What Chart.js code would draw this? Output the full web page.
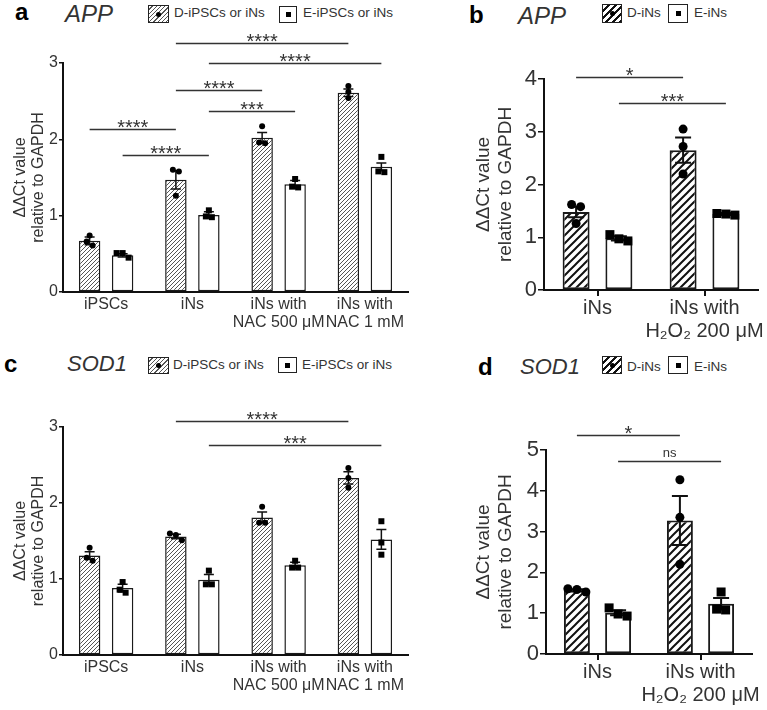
<!DOCTYPE html>
<html>
<head>
<meta charset="utf-8">
<script src="https://cdn.jsdelivr.net/npm/chart.js@4.4.0/dist/chart.umd.min.js"></script>
<style>
  body { margin: 0; width: 767px; height: 710px; background: #fff; position: relative; overflow: hidden;
         font-family: "Liberation Sans", Arial, sans-serif; color: #333; }
  canvas { position: absolute; }
  .t { position: absolute; white-space: nowrap; line-height: 1; }
  .letter { font-weight: bold; font-size: 24px; color: #000; }
  .gene { font-style: italic; font-size: 24px; color: #333; }
  .gene.s { font-size: 22px; }
  .lg { font-size: 13.5px; color: #333; }
  .sw { position: absolute; box-sizing: border-box; border: 1.5px solid #222; background: #fff; }
  .sw.fine { background: repeating-linear-gradient(135deg, #fff 0 2px, #555 2px 3px); }
  .sw.bold { background: repeating-linear-gradient(135deg, #fff 0 3px, #111 3px 5px); }
  .sw i { position: absolute; left: 50%; top: 50%; width: 5px; height: 5px; margin: -2.5px 0 0 -2.5px; background: #000; }
  .sw.fine i, .sw.bold i { border-radius: 50%; }
</style>
</head>
<body>

<!-- panel headers -->
<div class="t letter" style="left:15px;top:0px">a</div>
<div class="t gene" style="left:65px;top:2px">APP</div>
<div class="sw fine" style="left:148px;top:5px;width:21px;height:18px"><i></i></div>
<div class="t lg" style="left:174px;top:6px">D-iPSCs or iNs</div>
<div class="sw" style="left:279px;top:6px;width:18px;height:17px"><i></i></div>
<div class="t lg" style="left:303px;top:6px">E-iPSCs or iNs</div>

<div class="t letter" style="left:469px;top:3px">b</div>
<div class="t gene" style="left:518px;top:4px">APP</div>
<div class="sw bold" style="left:602px;top:4px;width:20px;height:19px"><i></i></div>
<div class="t lg" style="left:627px;top:6px">D-iNs</div>
<div class="sw" style="left:668px;top:4px;width:20px;height:19px"><i></i></div>
<div class="t lg" style="left:694px;top:6px">E-iNs</div>

<div class="t letter" style="left:4px;top:352px">c</div>
<div class="t gene s" style="left:67px;top:353px">SOD1</div>
<div class="sw fine" style="left:148px;top:357px;width:21px;height:17px"><i></i></div>
<div class="t lg" style="left:173px;top:358px">D-iPSCs or iNs</div>
<div class="sw" style="left:278px;top:357px;width:19px;height:16px"><i></i></div>
<div class="t lg" style="left:302px;top:358px">E-iPSCs or iNs</div>

<div class="t letter" style="left:478px;top:355px">d</div>
<div class="t gene s" style="left:520px;top:356px">SOD1</div>
<div class="sw bold" style="left:602px;top:356px;width:20px;height:18px"><i></i></div>
<div class="t lg" style="left:627px;top:360px">D-iNs</div>
<div class="sw" style="left:668px;top:356px;width:20px;height:18px"><i></i></div>
<div class="t lg" style="left:694px;top:360px">E-iNs</div>

<canvas id="pa" width="420" height="345" style="left:0;top:0"></canvas>
<canvas id="pb" width="327" height="345" style="left:440px;top:0"></canvas>
<canvas id="pc" width="420" height="345" style="left:0;top:360px"></canvas>
<canvas id="pd" width="327" height="350" style="left:440px;top:360px"></canvas>

<script>
// ---- data ----
const nacGroups = ['iPSCs', 'iNs', ['iNs with', 'NAC 500 μM'], ['iNs with', 'NAC 1 mM']];
const h2o2Groups = ['iNs', ['iNs with', 'H₂O₂ 200 μM']];
const yTitle = ['ΔΔCt value', 'relative to GAPDH'];

// a: APP, iPSCs / iNs / NAC
const appNacD = [0.67, 1.47, 2.02, 2.61];
const appNacDSem = [0.05, 0.12, 0.07, 0.05];
const appNacDPts = [[0.74, 0.66, 0.61], [1.60, 1.58, 1.26], [2.17, 1.96, 1.95], [2.70, 2.62, 2.54]];
const appNacE = [0.48, 1.01, 1.41, 1.64];
const appNacESem = [0.02, 0.04, 0.05, 0.05];
const appNacEPts = [[0.51, 0.51, 0.45], [1.07, 0.98, 0.99], [1.48, 1.37, 1.38], [1.77, 1.58, 1.57]];
// [dataset, group] -> [dataset, group], bracket height, label
const appNacSig = [
  [[0, 1], [0, 3], 3.26, '****'],
  [[1, 1], [1, 3], 3.00, '****'],
  [[0, 1], [0, 2], 2.65, '****'],
  [[1, 1], [1, 2], 2.37, '***'],
  [[0, 0], [0, 1], 2.13, '****'],
  [[1, 0], [1, 1], 1.80, '****']
];

// b: APP, H2O2
const appH2o2D = [1.48, 2.65];
const appH2o2DSem = [0.10, 0.24];
const appH2o2DPts = [[1.62, 1.58, 1.26], [3.05, 2.72, 2.20]];
const appH2o2E = [0.98, 1.44];
const appH2o2ESem = [0.04, 0.02];
const appH2o2EPts = [[0.93, 1.05, 0.97], [1.42, 1.45, 1.44]];
const appH2o2Sig = [
  [[0, 0], [0, 1], 4.04, '*'],
  [[1, 0], [1, 1], 3.55, '***']
];

// c: SOD1, iPSCs / iNs / NAC
const sodNacD = [1.31, 1.56, 1.81, 2.33];
const sodNacDSem = [0.05, 0.03, 0.07, 0.08];
const sodNacDPts = [[1.41, 1.28, 1.24], [1.60, 1.58, 1.51], [1.95, 1.74, 1.74], [2.46, 2.33, 2.20]];
const sodNacE = [0.88, 0.99, 1.18, 1.52];
const sodNacESem = [0.05, 0.07, 0.04, 0.13];
const sodNacEPts = [[0.96, 0.86, 0.82], [1.11, 0.93, 0.93], [1.24, 1.15, 1.15], [1.76, 1.48, 1.32]];
const sodNacSig = [
  [[0, 1], [0, 3], 3.08, '****'],
  [[1, 1], [1, 3], 2.76, '***']
];

// d: SOD1, H2O2
const sodH2o2D = [1.56, 3.27];
const sodH2o2DSem = [0.03, 0.60];
const sodH2o2DPts = [[1.52, 1.58, 1.60], [4.27, 3.35, 2.20]];
const sodH2o2E = [1.01, 1.23];
const sodH2o2ESem = [0.06, 0.14];
const sodH2o2EPts = [[0.93, 1.13, 0.98], [1.52, 1.08, 1.10]];
const sodH2o2Sig = [
  [[0, 0], [0, 1], 5.36, '*'],
  [[1, 0], [1, 1], 4.74, 'ns']
];

// ---- drawing ----
const FONT = '"Liberation Sans", Arial, sans-serif';

function hatch(size, lw, color) {
  const c = document.createElement('canvas');
  c.width = c.height = size;
  const g = c.getContext('2d');
  g.fillStyle = '#fff';
  g.fillRect(0, 0, size, size);
  g.strokeStyle = color;
  g.lineWidth = lw;
  g.beginPath();
  g.moveTo(-1, size + 1); g.lineTo(size + 1, -1);
  g.moveTo(-size / 2, size / 2); g.lineTo(size / 2, -size / 2);
  g.moveTo(size / 2, size * 1.5); g.lineTo(size * 1.5, size / 2);
  g.stroke();
  return g.createPattern(c, 'repeat');
}

// points with nearly equal values sit side by side, like the prism scatter
function spread(vals, yScale, gap) {
  const px = vals.map(v => yScale.getPixelForValue(v));
  const order = px.map((p, i) => i).sort((a, b) => px[a] - px[b]);
  const offs = new Array(vals.length).fill(0);
  let grp = [order[0]];
  const flush = () => grp.forEach((idx, k) => { offs[idx] = (k - (grp.length - 1) / 2) * gap; });
  for (let k = 1; k < order.length; k++) {
    if (px[order[k]] - px[grp[grp.length - 1]] < gap * 0.9) grp.push(order[k]);
    else { flush(); grp = [order[k]]; }
  }
  flush();
  return px.map((p, i) => ({ dx: offs[i], y: p }));
}

function extras(p) {
  return {
    id: 'extras',
    afterDatasetsDraw(chart) {
      const ctx = chart.ctx;
      const y = chart.scales.y;
      const means = [p.d, p.e], sems = [p.dSem, p.eSem], pts = [p.dPts, p.ePts];
      ctx.save();
      // error bars (mean +- sem)
      ctx.strokeStyle = '#111';
      ctx.lineWidth = p.errW;
      for (let ds = 0; ds < 2; ds++) {
        chart.getDatasetMeta(ds).data.forEach((bar, i) => {
          const top = y.getPixelForValue(means[ds][i] + sems[ds][i]);
          const bot = y.getPixelForValue(means[ds][i] - sems[ds][i]);
          ctx.beginPath();
          ctx.moveTo(bar.x, top); ctx.lineTo(bar.x, bot);
          ctx.moveTo(bar.x - p.cap / 2, top); ctx.lineTo(bar.x + p.cap / 2, top);
          ctx.moveTo(bar.x - p.cap / 2, bot); ctx.lineTo(bar.x + p.cap / 2, bot);
          ctx.stroke();
        });
      }
      // individual replicates: circles for D, squares for E
      ctx.fillStyle = '#000';
      for (let ds = 0; ds < 2; ds++) {
        chart.getDatasetMeta(ds).data.forEach((bar, i) => {
          spread(pts[ds][i], y, p.dot * 2).forEach(q => {
            const x = bar.x + q.dx;
            ctx.beginPath();
            if (ds === 0) ctx.arc(x, q.y, p.dot, 0, Math.PI * 2);
            else ctx.rect(x - p.dot, q.y - p.dot, p.dot * 2, p.dot * 2);
            ctx.fill();
          });
        });
      }
      // significance brackets
      ctx.strokeStyle = '#333';
      ctx.fillStyle = '#333';
      ctx.lineWidth = 1.5;
      ctx.textAlign = 'center';
      ctx.textBaseline = 'alphabetic';
      p.sig.forEach(([a, b, h, label]) => {
        const x1 = chart.getDatasetMeta(a[0]).data[a[1]].x;
        const x2 = chart.getDatasetMeta(b[0]).data[b[1]].x;
        const yy = Math.round(y.getPixelForValue(h)) + 0.5;
        ctx.beginPath();
        ctx.moveTo(x1, yy); ctx.lineTo(x2, yy);
        ctx.stroke();
        if (label === 'ns') {
          ctx.font = '13px ' + FONT;
          ctx.fillText(label, (x1 + x2) / 2, yy - 5);
        } else {
          ctx.font = '20px ' + FONT;
          ctx.fillText(label, (x1 + x2) / 2, yy + 4);
        }
      });
      ctx.restore();
    }
  };
}

function panel(id, p) {
  const big = p.big;
  return new Chart(document.getElementById(id), {
    type: 'bar',
    data: {
      labels: p.labels,
      datasets: [
        { label: p.dName, data: p.d, backgroundColor: p.pattern, borderColor: '#1a1a1a',
          borderWidth: p.barW, borderSkipped: false },
        { label: p.eName, data: p.e, backgroundColor: '#fff', borderColor: '#1a1a1a',
          borderWidth: p.barW, borderSkipped: false }
      ]
    },
    options: {
      responsive: false,
      animation: false,
      events: [],
      datasets: { bar: { categoryPercentage: p.catPct, barPercentage: p.barPct } },
      layout: { padding: { left: 0, right: p.padR, top: p.padT, bottom: 0 } },
      plugins: { legend: { display: false }, tooltip: { enabled: false } },
      scales: {
        x: {
          offset: true,
          afterFit: s => { s.height = p.xH; },
          grid: { display: true, drawOnChartArea: false, drawTicks: big, tickLength: 6,
                  offset: false, color: '#111', lineWidth: 2 },
          border: { display: true, color: '#111', width: 2 },
          ticks: { color: '#333', padding: big ? 1 : 4, maxRotation: 0, autoSkip: false,
                   font: { family: FONT, size: big ? 20 : 16, lineHeight: big ? 1.15 : 1.1 } }
        },
        y: {
          min: 0, max: p.yMax,
          afterFit: s => { s.width = p.yW; },
          grid: { display: true, drawOnChartArea: false, drawTicks: true, tickLength: big ? 6 : 4,
                  color: '#111', lineWidth: 1.5 },
          border: { display: true, color: '#111', width: 2 },
          ticks: { stepSize: 1, color: '#333', padding: 1,
                   font: { family: FONT, size: big ? 22 : 16 } },
          title: { display: true, text: yTitle, color: '#333',
                   padding: { top: p.titlePad, bottom: 0 },
                   font: { family: FONT, size: big ? 19 : 16, lineHeight: big ? 1.2 : 1.1 } }
        }
      }
    },
    plugins: [extras(p)]
  });
}

const fine = hatch(4, 1, '#555');
const bold = hatch(8, 2, '#111');

panel('pa', {
  labels: nacGroups, dName: 'D-iPSCs or iNs', eName: 'E-iPSCs or iNs',
  d: appNacD, dSem: appNacDSem, dPts: appNacDPts,
  e: appNacE, eSem: appNacESem, ePts: appNacEPts, sig: appNacSig,
  yMax: 3, pattern: fine, big: false,
  yW: 63, xH: 53, padR: 12, padT: 63, titlePad: 12,
  catPct: 0.765, barPct: 0.65, barW: 1.5, errW: 1.5, cap: 10, dot: 3
});
panel('pb', {
  labels: h2o2Groups, dName: 'D-iNs', eName: 'E-iNs',
  d: appH2o2D, dSem: appH2o2DSem, dPts: appH2o2DPts,
  e: appH2o2E, eSem: appH2o2ESem, ePts: appH2o2EPts, sig: appH2o2Sig,
  yMax: 4, pattern: bold, big: true,
  yW: 104, xH: 55, padR: 9, padT: 79, titlePad: 32,
  catPct: 0.80, barPct: 0.63, barW: 2, errW: 2, cap: 16, dot: 4.5
});
panel('pc', {
  labels: nacGroups, dName: 'D-iPSCs or iNs', eName: 'E-iPSCs or iNs',
  d: sodNacD, dSem: sodNacDSem, dPts: sodNacDPts,
  e: sodNacE, eSem: sodNacESem, ePts: sodNacEPts, sig: sodNacSig,
  yMax: 3, pattern: fine, big: false,
  yW: 63, xH: 50, padR: 12, padT: 67, titlePad: 12,
  catPct: 0.765, barPct: 0.65, barW: 1.5, errW: 1.5, cap: 10, dot: 3
});
panel('pd', {
  labels: h2o2Groups, dName: 'D-iNs', eName: 'E-iNs',
  d: sodH2o2D, dSem: sodH2o2DSem, dPts: sodH2o2DPts,
  e: sodH2o2E, eSem: sodH2o2ESem, ePts: sodH2o2EPts, sig: sodH2o2Sig,
  yMax: 5, pattern: bold, big: true,
  yW: 106, xH: 56, padR: 15, padT: 90, titlePad: 32,
  catPct: 0.80, barPct: 0.63, barW: 2, errW: 2, cap: 16, dot: 4.5
});
</script>
</body>
</html>
